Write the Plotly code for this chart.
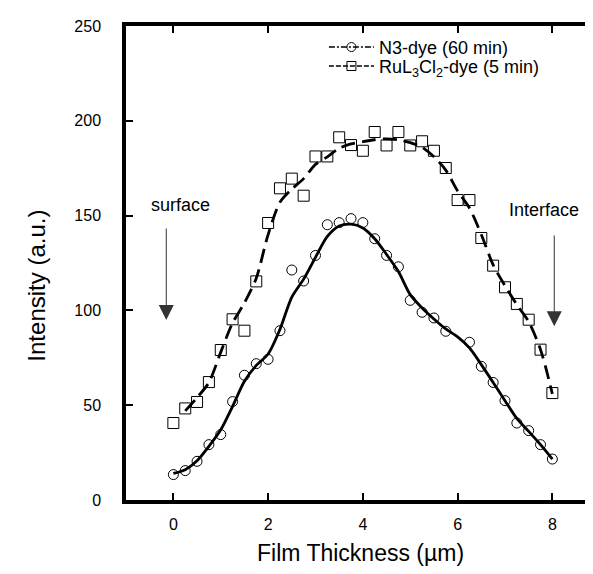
import plotly.graph_objects as go

# --- data ---
n3_x = [0, 0.25, 0.5, 0.75, 1.0, 1.25, 1.5, 1.75, 2.0, 2.25, 2.5, 2.75, 3.0, 3.25, 3.5, 3.75,
        4.0, 4.25, 4.5, 4.75, 5.0, 5.25, 5.5, 5.75, 6.25, 6.5, 6.75, 7.0, 7.25, 7.5, 7.75, 8.0]
n3_y = [13.4, 15.5, 20.4, 29.2, 34.5, 51.9, 65.8, 71.9, 74.2, 89.3, 121.3, 115.5, 129, 145.2, 146.3, 148.4,
        146.3, 137.8, 129, 123, 105.3, 99, 96, 89, 83.2, 70.5, 62, 52.4, 40.6, 36.6, 29.2, 21.6]

ru_x = [0, 0.25, 0.5, 0.75, 1.0, 1.25, 1.5, 1.75, 2.0, 2.25, 2.5, 2.75, 3.0, 3.25, 3.5, 3.75,
        4.0, 4.25, 4.5, 4.75, 5.0, 5.25, 5.5, 5.75, 6.0, 6.25, 6.5, 6.75, 7.0, 7.25, 7.5, 7.75, 8.0]
ru_y = [40.6, 48.3, 51.7, 62.2, 79.1, 95.3, 89.3, 115.3, 146.1, 164.4, 169.5, 160.5, 181.2, 181.2, 191.3, 187.2,
        184.2, 194.1, 187.0, 194.1, 187.0, 189.2, 184.2, 175.1, 158.2, 158.2, 138.2, 123.6, 112.2, 103.4, 95.1, 79.3, 56.4]

# smoothed fit curves
n3_fit_x = [0, 0.25, 0.5, 0.75, 1.0, 1.25, 1.5, 1.75, 2.0, 2.25, 2.5, 2.75, 3.0, 3.25, 3.5, 3.75,
            4.0, 4.25, 4.5, 4.75, 5.0, 5.25, 5.5, 5.75, 6.0, 6.25, 6.5, 6.75, 7.0, 7.25, 7.5, 7.75, 8.0]
n3_fit_y = [14, 16, 20.7, 28.3, 37, 49.4, 62.6, 71, 77, 90, 107, 116.5, 128, 139, 144.5, 145.5,
            143.5, 137.8, 129.5, 120.5, 108.3, 101.3, 95.5, 90.2, 86, 80.2, 71.4, 62, 52.4, 43, 36.2, 29.2, 21.6]

ru_fit_x = [0.25, 0.5, 0.75, 1.0, 1.25, 1.5, 1.75, 2.0, 2.25, 2.5, 2.75, 3.0, 3.25, 3.5, 3.75,
            4.0, 4.25, 4.5, 4.75, 5.0, 5.25, 5.5, 5.75, 6.0, 6.25, 6.5, 6.75, 7.0, 7.25, 7.5, 7.75, 8.0]
ru_fit_y = [47, 54, 62, 78, 93.4, 104, 117, 140, 157, 164, 169.5, 177, 181, 185.5, 187.8,
            189, 190, 190.5, 190, 188.5, 186, 181, 174, 163, 154, 140, 124, 113, 103, 94, 79.3, 56]

x_ticks = [0, 2, 4, 6, 8]
y_ticks = [0, 50, 100, 150, 200, 250]

FONT = "Liberation Sans, Arial, sans-serif"

fig = go.Figure()

fig.add_trace(go.Scatter(x=n3_fit_x, y=n3_fit_y, mode="lines",
                         line=dict(color="black", width=2.8, shape="spline", smoothing=0.8),
                         showlegend=False, hoverinfo="skip"))
fig.add_trace(go.Scatter(x=ru_fit_x, y=ru_fit_y, mode="lines",
                         line=dict(color="black", width=2.8, dash="14px,7px", shape="spline", smoothing=0.8),
                         showlegend=False, hoverinfo="skip"))
fig.add_trace(go.Scatter(x=n3_x, y=n3_y, mode="markers",
                         marker=dict(symbol="circle-open", size=10, color="black", line=dict(width=1)),
                         showlegend=False))
fig.add_trace(go.Scatter(x=ru_x, y=ru_y, mode="markers",
                         marker=dict(symbol="square-open", size=11, color="black", line=dict(width=1)),
                         showlegend=False))

# legend entries (two legends so the rows can sit close together)
fig.add_trace(go.Scatter(x=[None], y=[None], mode="lines+markers", name="N3-dye (60 min)",
                         line=dict(color="black", width=1.5, dash="6px,2px,2px,2px"),
                         marker=dict(symbol="circle-open", size=9, color="black"), legend="legend"))
fig.add_trace(go.Scatter(x=[None], y=[None], mode="lines+markers", name="RuL<sub>3</sub>Cl<sub>2</sub>-dye (5 min)",
                         line=dict(color="black", width=1.5, dash="5px,2px"),
                         marker=dict(symbol="square-open", size=9, color="black"), legend="legend2"))

# annotations: surface / Interface with arrows
fig.add_annotation(x=-0.15, y=95, ax=-0.15, ay=144, xref="x", yref="y", axref="x", ayref="y",
                   showarrow=True, arrowhead=2, arrowsize=3, arrowwidth=1, arrowcolor="#333", text="")
fig.add_annotation(x=0.15, y=155.6, xref="x", yref="y", text="surface", showarrow=False,
                   font=dict(family=FONT, size=18, color="black"))
fig.add_annotation(x=8.04, y=91.6, ax=8.04, ay=140.3, xref="x", yref="y", axref="x", ayref="y",
                   showarrow=True, arrowhead=2, arrowsize=3, arrowwidth=1, arrowcolor="#333", text="")
fig.add_annotation(x=7.83, y=153, xref="x", yref="y", text="Interface", showarrow=False,
                   font=dict(family=FONT, size=18, color="black"))

# axis titles
fig.add_annotation(x=0.5, y=-0.112, xref="paper", yref="paper", text="Film Thickness (µm)",
                   showarrow=False, xanchor="center", yanchor="middle",
                   font=dict(family=FONT, size=23, color="black"))
fig.add_annotation(x=-0.19, y=0.452, xref="paper", yref="paper", text="Intensity (a.u.)",
                   showarrow=False, xanchor="center", yanchor="middle", textangle=-90,
                   font=dict(family=FONT, size=24, color="black"))

legend_style = dict(xanchor="left", yanchor="top", bgcolor="rgba(0,0,0,0)",
                    font=dict(family=FONT, size=18), tracegroupgap=0, itemwidth=45)

fig.update_layout(
    width=593, height=574,
    margin=dict(l=118, r=6, t=18, b=82),
    paper_bgcolor="white", plot_bgcolor="white",
    font=dict(family=FONT, size=16, color="black"),
    showlegend=True,
    legend=dict(x=0.422, y=0.994, **legend_style),
    legend2=dict(x=0.422, y=0.954, **legend_style),
    xaxis=dict(range=[-1, 8.9], tickvals=x_ticks, ticks="inside", ticklen=7, tickwidth=1.5, tickcolor="black",
               showline=True, linewidth=3.5, linecolor="black", mirror="ticks", showgrid=False, zeroline=False,
               ticklabelstandoff=7, automargin=False, tickfont=dict(size=16)),
    yaxis=dict(range=[0, 250], tickvals=y_ticks, ticks="inside", ticklen=7, tickwidth=1.5, tickcolor="black",
               showline=True, linewidth=3.5, linecolor="black", mirror="ticks", showgrid=False, zeroline=False,
               ticklabelstandoff=18, automargin=False, tickfont=dict(size=16)),
)

fig.write_html("out.html")
